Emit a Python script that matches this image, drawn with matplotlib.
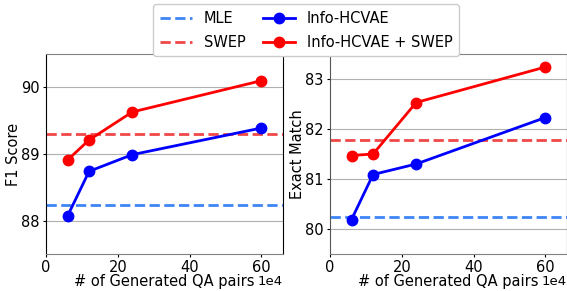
import matplotlib
matplotlib.use("Agg")
from matplotlib import pyplot as plt

# data
qa_pairs = [6, 12, 24, 60]  # x 1e4

f1_hcvae = [88.07, 88.74, 88.99, 89.39]
f1_hcvae_swep = [88.91, 89.21, 89.63, 90.10]
f1_mle = 88.23
f1_swep = 89.30

em_hcvae = [80.19, 81.09, 81.30, 82.23]
em_hcvae_swep = [81.47, 81.50, 82.53, 83.24]
em_mle = 80.25
em_swep = 81.78

fs = 10.5

fig = plt.figure(figsize=(5.67, 2.91), dpi=100)
ax1 = fig.add_axes([46/567, 37/291, 237/567, 200/291])
ax2 = fig.add_axes([330/567, 37/291, 237/567, 200/291])

panels = [
    (ax1, f1_hcvae, f1_hcvae_swep, f1_mle, f1_swep, 'F1 Score', (87.5, 90.5), [88, 89, 90]),
    (ax2, em_hcvae, em_hcvae_swep, em_mle, em_swep, 'Exact Match', (79.5, 83.5), [80, 81, 82, 83]),
]

for ax, hc, hcs, mle, swep, ylab, ylim, yt in panels:
    ax.axhline(mle, color='#3d85f5', ls='--', lw=2, label='MLE')
    ax.axhline(swep, color='#f04848', ls='--', lw=2, label='SWEP')
    ax.plot(qa_pairs, hc, color='blue', marker='o', ms=7.5, lw=2, label='Info-HCVAE')
    ax.plot(qa_pairs, hcs, color='red', marker='o', ms=7.5, lw=2, label='Info-HCVAE + SWEP')
    ax.set_xlim(0, 66)
    ax.set_ylim(*ylim)
    ax.set_yticks(yt)
    ax.set_xticks([0, 20, 40, 60])
    ax.set_ylabel(ylab, fontsize=fs, labelpad=0)
    ax.set_xlabel('# of Generated QA pairs', fontsize=fs, labelpad=-1)
    ax.tick_params(labelsize=fs, length=2.5, pad=2)
    ax.grid(axis='y', color='#b0b0b0', lw=0.8)
    ax.set_axisbelow(True)
    ax.spines['top'].set_color('#808080')
    ax.spines['bottom'].set_color('#808080')
    ax.text(1.0, -0.105, '1e4', transform=ax.transAxes, fontsize=fs - 1,
            ha='right', va='top')

ax2.spines['left'].set_color('#555555')

handles, labels = ax1.get_legend_handles_labels()
fig.legend(handles, labels, ncol=2, loc='upper center',
           bbox_to_anchor=(0.54, 1.01), fontsize=fs, framealpha=1,
           handlelength=2.2, columnspacing=1.2, borderpad=0.45, labelspacing=0.6)

fig.savefig('out.png', dpi=100)
